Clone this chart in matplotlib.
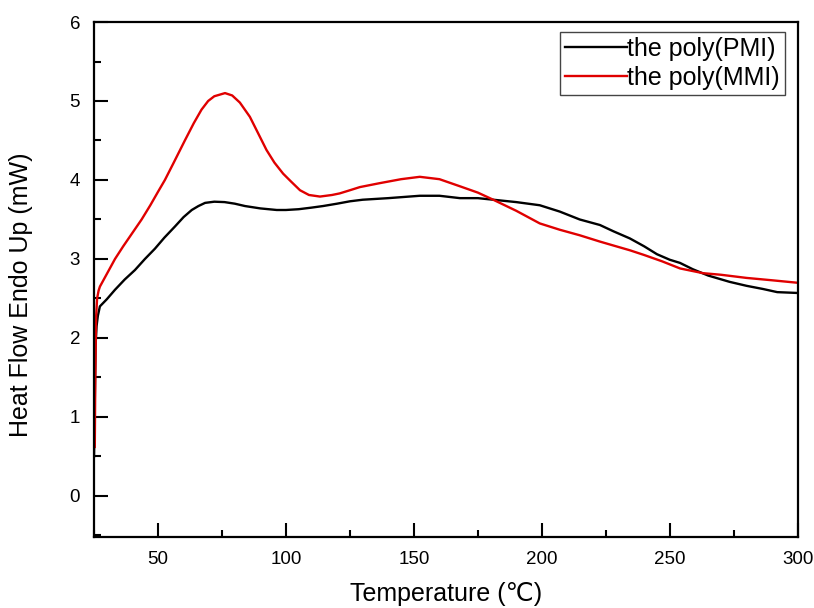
import matplotlib
matplotlib.use("Agg")
import matplotlib.pyplot as plt
from matplotlib.ticker import MultipleLocator

plt.rcParams['font.family'] = ['Liberation Sans', 'DejaVu Sans']

# DSC traces, temperature in degC, heat flow in mW
t_pmi = [25.0, 25.3, 25.6, 26.0, 26.5, 27.3, 30, 33.2, 37, 41, 44.9, 48.8, 52.5,
         56.6, 60, 63.2, 65.8, 68.4, 72, 76, 80, 84, 90, 96.4, 100, 105, 110,
         114.5, 120, 125, 130, 140, 152.3, 160, 168, 175, 181, 190, 199.2, 207,
         214.8, 222.7, 228, 234.4, 240, 245, 250, 254, 259, 265, 273.4, 280,
         286.4, 292, 299.5]
hf_pmi = [0.50, 1.20, 1.90, 2.15, 2.28, 2.40, 2.49, 2.61, 2.74, 2.86, 3.00, 3.13,
          3.27, 3.41, 3.53, 3.62, 3.67, 3.71, 3.725, 3.72, 3.70, 3.67, 3.64,
          3.62, 3.62, 3.63, 3.65, 3.67, 3.70, 3.73, 3.75, 3.77, 3.80, 3.80,
          3.77, 3.77, 3.75, 3.72, 3.68, 3.60, 3.50, 3.43, 3.35, 3.26, 3.16,
          3.06, 2.99, 2.95, 2.87, 2.79, 2.71, 2.66, 2.62, 2.58, 2.57]

t_mmi = [25.3, 25.5, 25.8, 26.2, 26.8, 27.3, 30, 33.2, 36.4, 40, 43.6, 47, 50,
         52.7, 56, 60.5, 64, 67, 69.6, 72, 76.2, 79, 82, 85.9, 89, 92.4, 95.5,
         98.9, 102, 105.5, 109, 113.3, 118, 121, 125, 128.9, 136.7, 145, 152.3,
         160, 168, 175, 181, 190, 199.2, 207, 214.8, 222.7, 228, 234.4, 240,
         247, 254, 263, 270, 280, 290, 299.5]
hf_mmi = [0.62, 1.50, 2.25, 2.50, 2.60, 2.65, 2.81, 3.00, 3.16, 3.33, 3.50, 3.68,
          3.85, 4.00, 4.21, 4.50, 4.72, 4.89, 5.00, 5.06, 5.10, 5.07, 4.98,
          4.80, 4.60, 4.38, 4.22, 4.08, 3.98, 3.87, 3.81, 3.79, 3.81, 3.83,
          3.87, 3.91, 3.96, 4.01, 4.04, 4.01, 3.92, 3.84, 3.75, 3.61, 3.45,
          3.37, 3.30, 3.22, 3.17, 3.11, 3.05, 2.97, 2.88, 2.82, 2.80, 2.76,
          2.73, 2.70]

fig = plt.figure(figsize=(8.14, 6.08), dpi=100)
ax = fig.add_axes([0.1155, 0.1168, 0.8645, 0.847])

ax.plot(t_pmi, hf_pmi, color='black', lw=1.7, label='the poly(PMI)')
ax.plot(t_mmi, hf_mmi, color='#e00000', lw=1.7, label='the poly(MMI)')

ax.set_xlim(25, 300)
ax.set_ylim(-0.52, 6)
ax.xaxis.set_major_locator(MultipleLocator(50))
ax.xaxis.set_minor_locator(MultipleLocator(25))
ax.yaxis.set_major_locator(MultipleLocator(1))
ax.yaxis.set_minor_locator(MultipleLocator(0.5))
ax.tick_params(which='both', direction='in', top=False, right=False,
               labelsize=13.5, width=1.5, colors='black')
ax.tick_params(which='major', length=10, pad=10)
ax.tick_params(which='minor', length=5)
for s in ax.spines.values():
    s.set_linewidth(1.6)

ax.set_xlabel('Temperature (℃)', fontsize=18, labelpad=10)
ax.set_ylabel('Heat Flow Endo Up (mW)', fontsize=18)
ax.yaxis.set_label_coords(-0.087, 0.47)

leg = ax.legend(loc='upper right', bbox_to_anchor=(0.982, 0.981), fontsize=18,
                handlelength=2.5, handletextpad=0.0, borderpad=0.2,
                labelspacing=0.2, fancybox=False, framealpha=1,
                edgecolor='#444444', borderaxespad=0)
leg.get_frame().set_linewidth(1.0)

fig.savefig('out.png', dpi=100)
